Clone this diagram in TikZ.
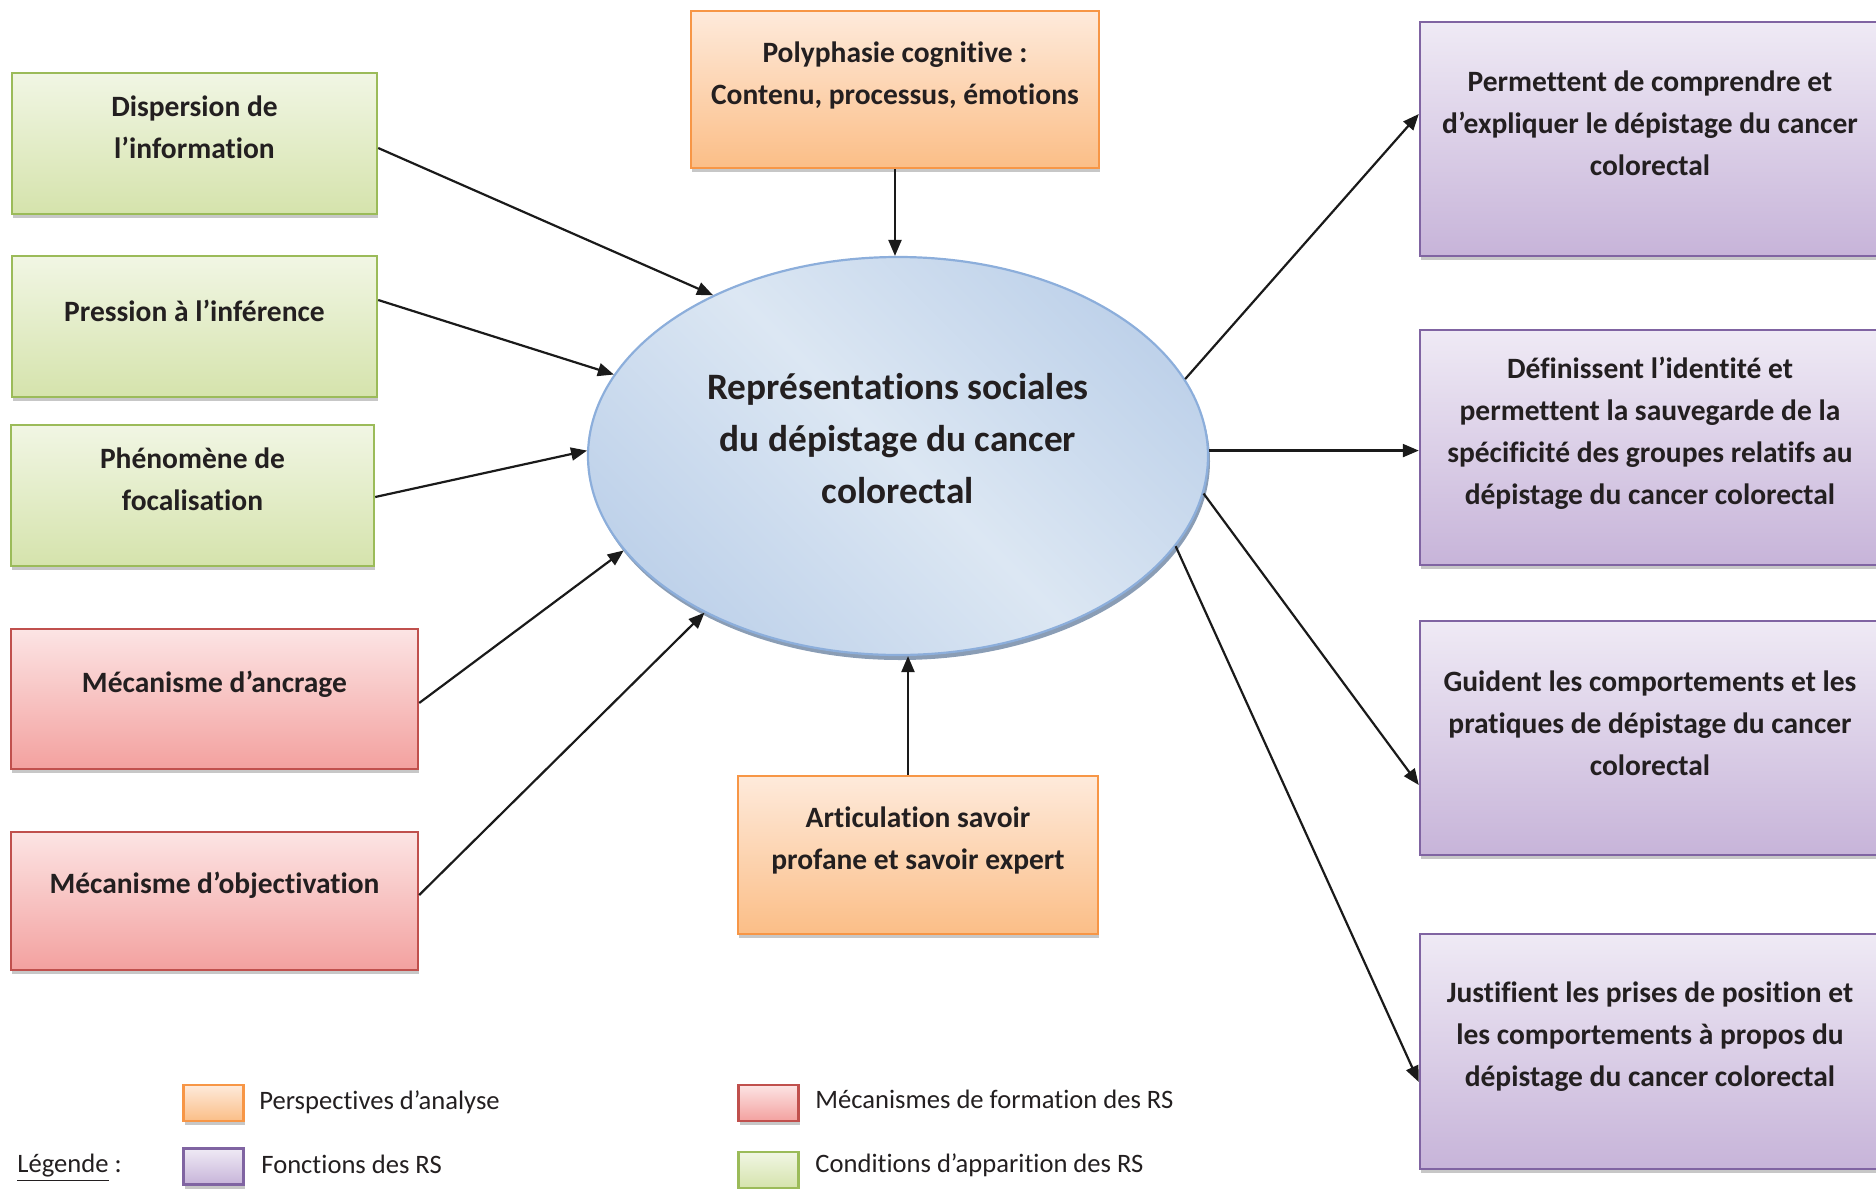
\documentclass[tikz,border=0pt]{standalone}
\usepackage{fontspec}
\setmainfont{Carlito}[Ligatures=NoCommon]
\usetikzlibrary{arrows.meta,shapes.geometric,shadows}
\definecolor{txt}{HTML}{231F20}
\definecolor{arrc}{HTML}{1A1A1A}
\definecolor{gB}{HTML}{9BBB59}\definecolor{gT}{HTML}{F1F6E4}\definecolor{gD}{HTML}{D5E3AC}
\definecolor{rB}{HTML}{C0504D}\definecolor{rT}{HTML}{FCE4E4}\definecolor{rD}{HTML}{F3A19F}
\definecolor{oB}{HTML}{F79646}\definecolor{oT}{HTML}{FEEADB}\definecolor{oD}{HTML}{FBBE87}
\definecolor{pB}{HTML}{8064A2}\definecolor{pT}{HTML}{EFEAF5}\definecolor{pD}{HTML}{C7B4D9}
\definecolor{eB}{HTML}{8CAEDB}\definecolor{eI}{HTML}{DCE7F3}\definecolor{eO}{HTML}{BFD2EA}
\definecolor{eS}{HTML}{8A9DB5}
\begin{document}
\begin{tikzpicture}[x=0.5pt,y=-0.5pt,
  basebox/.style={draw, line width=1.2pt, inner sep=0pt,
    drop shadow={shadow xshift=0.6pt, shadow yshift=-2pt, fill=black!22, opacity=1}},
  gbox/.style={basebox, draw=gB, top color=gT, bottom color=gD},
  rbox/.style={basebox, draw=rB, top color=rT, bottom color=rD},
  obox/.style={basebox, draw=oB, top color=oT, bottom color=oD},
  pbox/.style={basebox, draw=pB, top color=pT, bottom color=pD},
  btxt/.style={font=\bfseries\fontsize{14.75}{21}\selectfont, text=txt, align=center, inner sep=0pt},
  etxt/.style={font=\bfseries\fontsize{18.65}{26}\selectfont, text=txt, align=center, inner sep=0pt},
  ltxt/.style={font=\fontsize{13.3}{16}\selectfont, text=txt, anchor=west, inner sep=0pt,
    text height=9.3pt, text depth=2.7pt},
  lsq/.style={minimum width=30pt, minimum height=18pt},
  arr/.style={draw=arrc, line width=1.1pt, -{Triangle[length=8pt,width=6.5pt]}}
]
\useasboundingbox (0,0) rectangle (1876,1189);
\clip (0,0) rectangle (1876,1189);

% central ellipse
\node[ellipse, draw=eB, line width=1.1pt, top color=eO, bottom color=eO, middle color=eI,
  shading angle=-45,
  minimum width=310pt, minimum height=199pt, inner sep=0pt,
  drop shadow={shadow xshift=1pt, shadow yshift=-2.5pt, fill=eS, opacity=1}] (E) at (898,456) {};
\node[etxt] (Et) at (898,439) {Représentations sociales\\du dépistage du cancer\\colorectal};

% green boxes
\node[gbox, minimum width=182.5pt, minimum height=70.5pt] (g1) at (194.5,143.5) {};
\node[btxt] (g1t) at (194.5,127) {Dispersion de\\l’information};
\node[gbox, minimum width=182.5pt, minimum height=70.5pt] (g2) at (194.5,326.5) {};
\node[btxt] (g2t) at (194.5,310.5) {Pression à l’inférence};
\node[gbox, minimum width=181.5pt, minimum height=70.5pt] (g3) at (192.5,495.5) {};
\node[btxt] (g3t) at (192.5,479) {Phénomène de\\focalisation};

% red boxes
\node[rbox, minimum width=203.5pt, minimum height=70pt] (r1) at (214.5,699) {};
\node[btxt] (r1t) at (214.5,684) {Mécanisme d’ancrage};
\node[rbox, minimum width=203.5pt, minimum height=69pt] (r2) at (214.5,901) {};
\node[btxt] (r2t) at (214.5,885.5) {Mécanisme d’objectivation};

% orange boxes
\node[obox, minimum width=204pt, minimum height=78.5pt] (o1) at (895,89.5) {};
\node[btxt] (o1t) at (895,75) {Polyphasie cognitive :\\Contenu, processus, émotions};
\node[obox, minimum width=180pt, minimum height=79pt] (o2) at (918,855) {};
\node[btxt] (o2t) at (918,840.5) {Articulation savoir\\profane et savoir expert};

% purple boxes
\node[pbox, minimum width=230pt, minimum height=117pt] (p1) at (1650,139) {};
\node[btxt] (p1t) at (1650,123.5) {Permettent de comprendre et\\d’expliquer le dépistage du cancer\\colorectal};
\node[pbox, minimum width=230pt, minimum height=117.5pt] (p2) at (1650,447.5) {};
\node[btxt] (p2t) at (1650,433) {Définissent l’identité et\\permettent la sauvegarde de la\\spécificité des groupes relatifs au\\dépistage du cancer colorectal};
\node[pbox, minimum width=230pt, minimum height=117pt] (p3) at (1650,738) {};
\node[btxt] (p3t) at (1650,723) {Guident les comportements et les\\pratiques de dépistage du cancer\\colorectal};
\node[pbox, minimum width=230pt, minimum height=117.5pt] (p4) at (1650,1051.5) {};
\node[btxt] (p4t) at (1650,1036.5) {Justifient les prises de position et\\les comportements à propos du\\dépistage du cancer colorectal};

% incoming arrows
\draw[arr] ([yshift=-2.25pt]g1.east) -- (E.139.8);
\draw[arr] ([yshift=13.25pt]g2.east) -- (E.164.2);
\draw[arr] ([yshift=-0.75pt]g3.east) -- (E.179.4);
\draw[arr] ([yshift=-2pt]r1.east) -- (E.199);
\draw[arr] ([yshift=3pt]r2.east) -- (E.219.1);
\draw[arr] (o1.south) -- (o1.south |- E.north);
\draw[arr] ([xshift=-5pt]o2.north) -- ([xshift=-5pt]o2.north |- E.south);

% outgoing arrows
\draw[arr] (E.15.6) -- ([yshift=12.5pt]p1.west);
\draw[arr] (E.1.5) -- (E.1.5 -| p2.west);
\draw[arr] (E.-7.8) -- ([yshift=-23.5pt]p3.west);
\draw[arr] (E.-18.6) -- ([yshift=-15.25pt]p4.west);

% legend
\node[obox, lsq] (lo) at (213.5,1103) {};
\node[rbox, lsq] (lr) at (768.5,1103) {};
\node[pbox, lsq] (lp) at (213.5,1166.5) {};
\node[gbox, lsq] (lg) at (768.5,1170) {};
\node[ltxt] (lot) at (259,1103) {Perspectives d’analyse};
\node[ltxt] (lrt) at (815,1102) {Mécanismes de formation des RS};
\node[ltxt] (lpt) at (261,1167) {Fonctions des RS};
\node[ltxt] (lgt) at (815,1166) {Conditions d’apparition des RS};
\node[ltxt] (leg) at (17,1166) {\underline{Légende} :};
\end{tikzpicture}
\end{document}
